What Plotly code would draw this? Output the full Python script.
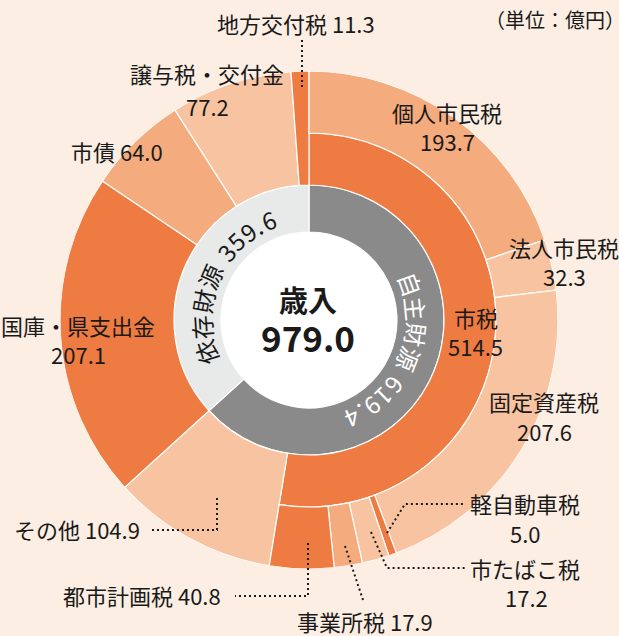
import math
import plotly.graph_objects as go

# ---------------- data ----------------
total_label = "歳入"
total_value = 979.0
unit_label = "（単位：億円）"

source_labels = ["自主財源", "依存財源"]
source_values = [619.4, 359.6]

mid_labels = ["市税", "その他", "国庫・県支出金", "市債", "譲与税・交付金", "地方交付税"]
mid_values = [514.5, 104.9, 207.1, 64.0, 77.2, 11.3]

tax_labels = ["個人市民税", "法人市民税", "固定資産税", "軽自動車税", "市たばこ税", "事業所税", "都市計画税"]
tax_values = [193.7, 32.3, 207.6, 5.0, 17.2, 17.9, 40.8]

# ---------------- styles / geometry ----------------
W, H = 619, 636
CX, CY = 309, 320
R0, R1, R2, R3 = 88, 135, 187, 249
BG = "#FCEEE3"
DARK, MED, LIGHT = "#EE7B41", "#F4AB7D", "#F8C3A0"
source_colors = ["#8A8A8A", "#E8EAE9"]
mid_colors = [DARK, LIGHT, DARK, MED, LIGHT, DARK]
tax_colors = [MED, LIGHT, LIGHT, DARK, LIGHT, MED, DARK]
FONT = "Noto Sans CJK JP"
TXT = "#1a1a1a"


def spans(values, start=0.0):
    k = 360.0 / total_value
    out, a = [], start
    for v in values:
        w = v * k
        out.append((a + w / 2, w))
        a += w
    return out


fig = go.Figure()

src = spans(source_values)
fig.add_trace(go.Barpolar(
    theta=[c for c, w in src], width=[w for c, w in src],
    r=[R1 - R0] * len(src), base=R0,
    marker=dict(color=source_colors, line=dict(color="white", width=1.2)),
    hoverinfo="skip", showlegend=False))

mid = spans(mid_values)
fig.add_trace(go.Barpolar(
    theta=[c for c, w in mid], width=[w for c, w in mid],
    r=[(R2 - R1) if i == 0 else (R3 - R1) for i in range(len(mid))], base=R1,
    marker=dict(color=mid_colors, line=dict(color="white", width=1.2)),
    hoverinfo="skip", showlegend=False))

tax = spans(tax_values)
fig.add_trace(go.Barpolar(
    theta=[c for c, w in tax], width=[w for c, w in tax],
    r=[R3 - R2] * len(tax), base=R2,
    marker=dict(color=tax_colors, line=dict(color="white", width=1.2)),
    hoverinfo="skip", showlegend=False))

annotations = []


def px(x):
    return x / W


def py(y):
    return 1 - y / H


def ann(text, x, y, size=22, color=TXT, bold=False, angle=0):
    if bold:
        text = "<b>" + text + "</b>"
    annotations.append(dict(
        text=text, x=px(x), y=py(y), xref="paper", yref="paper",
        xanchor="center", yanchor="middle", showarrow=False, textangle=angle,
        font=dict(family=FONT, size=size, color=color)))


def arc_text(text, mid_deg, r, size, color, track):
    adv = []
    for ch in text:
        if ch == " ":
            a = 0.25
        elif ch == ".":
            a = 0.28
        elif ch.isdigit():
            a = 0.56
        else:
            a = 1.0
        adv.append(a * size + track)
    L = sum(adv)
    s = -L / 2
    for ch, a in zip(text, adv):
        c = s + a / 2
        s += a
        if ch == " ":
            continue
        th = mid_deg + math.degrees(c / r)
        x = CX + r * math.sin(math.radians(th))
        y = CY - r * math.cos(math.radians(th))
        ang = th % 360
        if ang > 180:
            ang -= 360
        ann(ch, x, y, size=size, color=color, angle=ang)


def fmt(v):
    return f"{v:.1f}"


# centre
ann(total_label, 308, 299, size=29, bold=True)
ann(fmt(total_value), 308, 336, size=35, bold=True)

# ring text
arc_text(f"{source_labels[0]} {fmt(source_values[0])}", src[0][0] - 2, 108, 24, "white", 2)
arc_text(f"{source_labels[1]} {fmt(source_values[1])}", src[1][0], 108, 24, TXT, 2)

# unit
ann(unit_label, 555, 19, size=20)

# tax labels
ann(mid_labels[0], 476, 317)
ann(fmt(mid_values[0]), 475, 346)
ann(tax_labels[0], 447, 112)
ann(fmt(tax_values[0]), 447, 141)
ann(tax_labels[1], 564, 247)
ann(fmt(tax_values[1]), 564, 276)
ann(tax_labels[2], 544, 401)
ann(fmt(tax_values[2]), 544, 431)
ann(tax_labels[3], 525, 503)
ann(fmt(tax_values[3]), 525, 533)
ann(tax_labels[4], 525, 568)
ann(fmt(tax_values[4]), 526, 597)
ann(f"{tax_labels[5]} {fmt(tax_values[5])}", 365, 621)
ann(f"{tax_labels[6]} {fmt(tax_values[6])}", 142, 595)

# other labels
ann(f"{mid_labels[1]} {fmt(mid_values[1])}", 77, 529)
ann(mid_labels[2], 78, 325)
ann(fmt(mid_values[2]), 78, 354)
ann(f"{mid_labels[3]} {fmt(mid_values[3])}", 117, 151)
ann(mid_labels[4], 207, 73)
ann(fmt(mid_values[4]), 207, 106)
ann(f"{mid_labels[5]} {fmt(mid_values[5])}", 296, 23)

# leader lines
leaders = [
    [(302, 40), (302, 87)],
    [(217, 498), (217, 530), (152, 530)],
    [(308, 543), (308, 596), (235, 596)],
    [(345, 546), (363, 600)],
    [(371, 532), (387, 568), (465, 568)],
    [(387, 533), (405, 504), (463, 504)],
]
shapes = []
for pts in leaders:
    path = "M " + " L ".join(f"{px(x):.5f},{py(y):.5f}" for x, y in pts)
    shapes.append(dict(type="path", path=path, xref="paper", yref="paper",
                       line=dict(color=TXT, width=2, dash="2px,3px")))

fig.update_layout(
    width=W, height=H, margin=dict(l=0, r=0, t=0, b=0),
    paper_bgcolor=BG, plot_bgcolor=BG,
    polar=dict(
        domain=dict(x=[(CX - R3) / W, (CX + R3) / W], y=[1 - (CY + R3) / H, 1 - (CY - R3) / H]),
        bgcolor="white", bargap=0, hole=0,
        radialaxis=dict(visible=False, range=[0, R3]),
        angularaxis=dict(visible=False, rotation=90, direction="clockwise"),
    ),
    annotations=annotations, shapes=shapes, showlegend=False,
)

fig.write_html("out.html", config={"displayModeBar": False},
               post_script="document.body.style.margin='0';document.body.style.overflow='hidden';")
